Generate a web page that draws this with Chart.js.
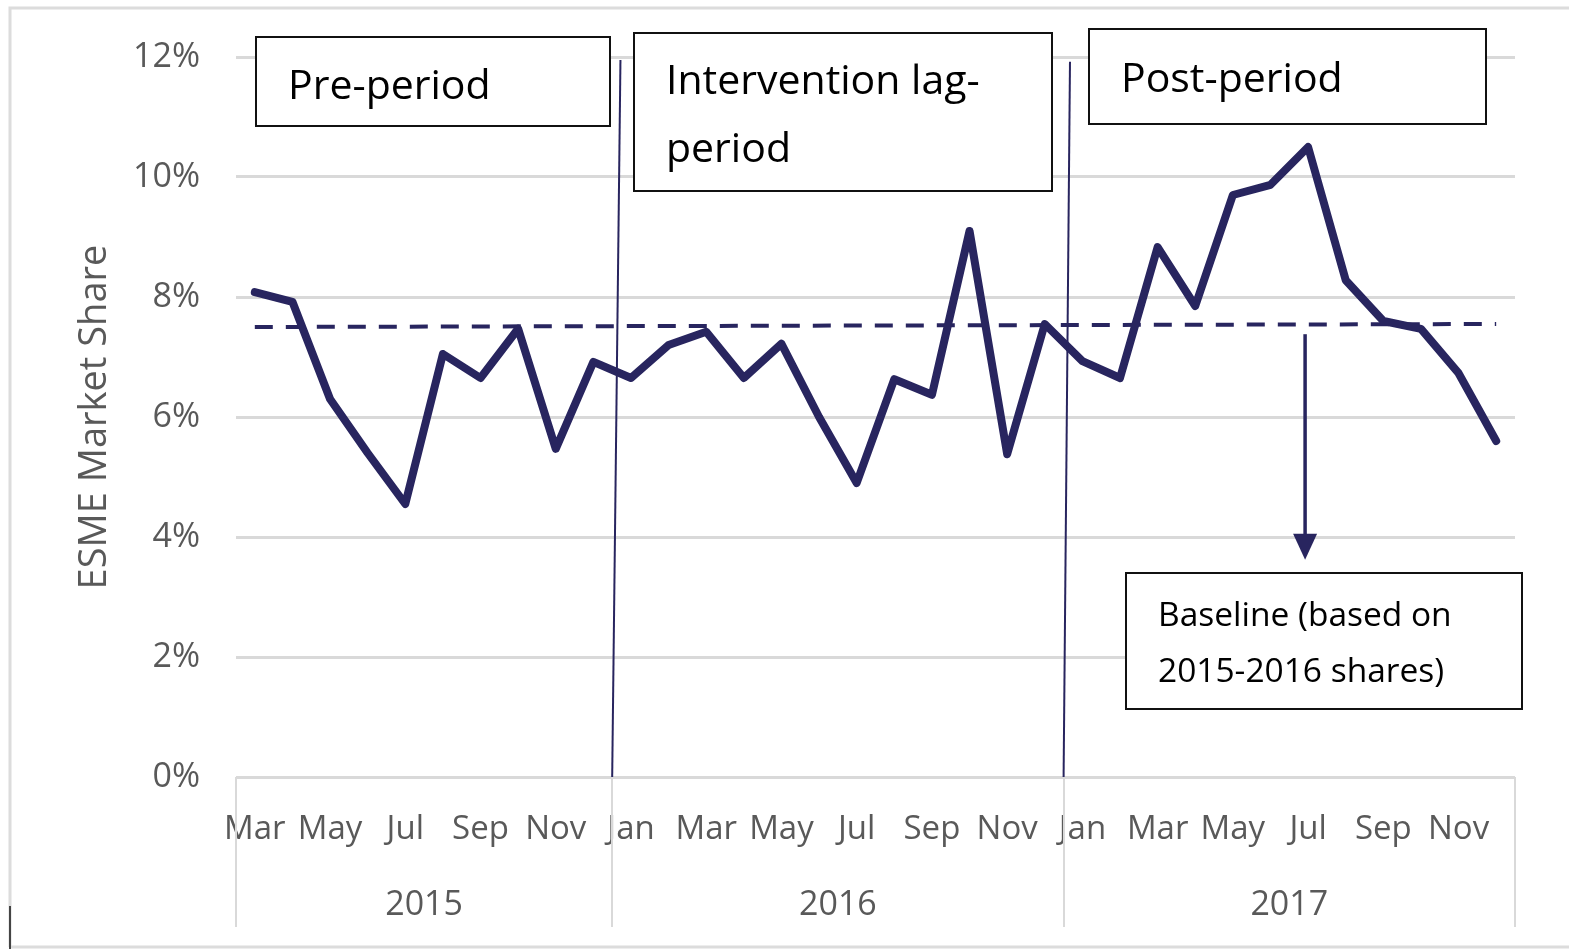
<!DOCTYPE html>
<html>
<head>
<meta charset="utf-8">
<script src="https://cdn.jsdelivr.net/npm/chart.js@4.4.1/dist/chart.umd.min.js"></script>
<style>
  body { margin: 0; background: #fff; }
  #wrap { width: 1569px; height: 949px; position: relative; }
</style>
</head>
<body>
<div id="wrap"><canvas id="myChart"></canvas></div>
<script>
// months from Mar 2015 to Dec 2017
const months = ['Mar','Apr','May','Jun','Jul','Aug','Sep','Oct','Nov','Dec',
  'Jan','Feb','Mar','Apr','May','Jun','Jul','Aug','Sep','Oct','Nov','Dec',
  'Jan','Feb','Mar','Apr','May','Jun','Jul','Aug','Sep','Oct','Nov','Dec'];
const years = ['2015', '2016', '2017'];
const monthsPerYear = [10, 12, 12];

// ESME market share, %
const share = [8.08, 7.92, 6.3, 5.4, 4.55, 7.05, 6.65, 7.47, 5.47, 6.92,
  6.65, 7.2, 7.42, 6.65, 7.22, 6.0, 4.9, 6.63, 6.37, 9.1, 5.38, 7.55,
  6.93, 6.65, 8.83, 7.85, 9.7, 9.87, 10.5, 8.28, 7.6, 7.47, 6.73, 5.6];

// baseline (based on 2015-2016 shares), start and end value
const baselineStart = 7.5;
const baselineEnd = 7.55;

const yTicks = [0, 2, 4, 6, 8, 10, 12];

const navy = '#28255f';
const grey = '#595959';
const font = "'Open Sans', 'DejaVu Sans', sans-serif";

// annotations, in category index / percent units
const periodLines = [
  { xTop: 9.72, yTop: 11.95, xBottom: 9.5, yBottom: 0 },
  { xTop: 21.67, yTop: 11.92, xBottom: 21.5, yBottom: 0 }
];
const textBoxes = [
  { x0: 0.03, x1: 9.44, y0: 12.33, y1: 10.85, lines: ['Pre-period'], size: 41, first: 50, gap: 0 },
  { x0: 10.08, x1: 21.19, y0: 12.4, y1: 9.77, lines: ['Intervention lag-', 'period'], size: 41, first: 49, gap: 68 },
  { x0: 22.17, x1: 32.73, y0: 12.47, y1: 10.88, lines: ['Post-period'], size: 41, first: 51, gap: 0 },
  { x0: 23.16, x1: 33.68, y0: 3.4, y1: 1.13, lines: ['Baseline (based on', '2015-2016 shares)'], size: 33.5, first: 43, gap: 56 }
];
const arrow = { x: 27.92, yFrom: 7.38, yTo: 3.62 };

const baselineData = months.map((m, i) => i === 0 ? baselineStart : (i === months.length - 1 ? baselineEnd : null));

const extras = {
  id: 'extras',
  beforeDraw(chart) {
    const c = chart.ctx;
    c.save();
    c.fillStyle = '#fff';
    c.fillRect(0, 0, chart.width, chart.height);
    c.strokeStyle = '#dcdcdc';
    c.lineWidth = 3;
    c.beginPath();
    c.moveTo(10, 947); c.lineTo(10, 8); c.lineTo(chart.width, 8);
    c.moveTo(10, 947); c.lineTo(chart.width, 947);
    c.stroke();
    c.strokeStyle = '#444';
    c.lineWidth = 2;
    c.beginPath();
    c.moveTo(10, 906); c.lineTo(10, 949);
    c.stroke();
    c.restore();
  },
  afterDraw(chart) {
    const c = chart.ctx;
    const xs = chart.scales.x, ys = chart.scales.y;
    const bottom = chart.chartArea.bottom;
    c.save();

    // year groups under month labels
    c.strokeStyle = '#d9d9d9';
    c.lineWidth = 2;
    let start = 0;
    const edges = [-0.5];
    monthsPerYear.forEach(n => { start += n; edges.push(start - 0.5); });
    edges.forEach(e => {
      const px = Math.round(xs.getPixelForValue(e));
      c.beginPath(); c.moveTo(px, bottom); c.lineTo(px, bottom + 150); c.stroke();
    });
    c.fillStyle = grey;
    c.font = '34px ' + font;
    c.textAlign = 'center';
    c.textBaseline = 'middle';
    years.forEach((y, i) => {
      const mid = (edges[i] + edges[i + 1]) / 2;
      c.fillText(y, xs.getPixelForValue(mid), bottom + 128);
    });

    // period divider lines
    c.strokeStyle = navy;
    c.lineWidth = 2;
    periodLines.forEach(l => {
      c.beginPath();
      c.moveTo(xs.getPixelForValue(l.xTop), ys.getPixelForValue(l.yTop));
      c.lineTo(xs.getPixelForValue(l.xBottom), ys.getPixelForValue(l.yBottom));
      c.stroke();
    });

    // arrow to baseline note
    const ax = xs.getPixelForValue(arrow.x);
    const ay0 = ys.getPixelForValue(arrow.yFrom);
    const ay1 = ys.getPixelForValue(arrow.yTo);
    c.lineWidth = 3.5;
    c.beginPath(); c.moveTo(ax, ay0); c.lineTo(ax, ay1 - 20); c.stroke();
    c.fillStyle = navy;
    c.beginPath();
    c.moveTo(ax - 12, ay1 - 26); c.lineTo(ax + 12, ay1 - 26); c.lineTo(ax, ay1);
    c.closePath(); c.fill();

    // text boxes
    textBoxes.forEach(b => {
      const x0 = Math.round(xs.getPixelForValue(b.x0)), x1 = Math.round(xs.getPixelForValue(b.x1));
      const y0 = Math.round(ys.getPixelForValue(b.y0)), y1 = Math.round(ys.getPixelForValue(b.y1));
      c.fillStyle = '#fff';
      c.fillRect(x0, y0, x1 - x0, y1 - y0);
      c.strokeStyle = '#111';
      c.lineWidth = 2;
      c.strokeRect(x0, y0, x1 - x0, y1 - y0);
      c.fillStyle = '#000';
      c.font = b.size + 'px ' + font;
      c.textAlign = 'left';
      c.textBaseline = 'middle';
      b.lines.forEach((t, i) => c.fillText(t, x0 + 32, y0 + b.first + i * b.gap));
    });
    c.restore();
  }
};

new Chart(document.getElementById('myChart'), {
  type: 'line',
  data: {
    labels: months,
    datasets: [
      {
        label: 'ESME Market Share',
        data: share,
        borderColor: navy,
        borderWidth: 8,
        pointRadius: 0,
        tension: 0,
        borderJoinStyle: 'round',
        borderCapStyle: 'round'
      },
      {
        label: 'Baseline',
        data: baselineData,
        spanGaps: true,
        borderColor: navy,
        borderWidth: 4,
        borderDash: [18, 13],
        pointRadius: 0
      }
    ]
  },
  options: {
    responsive: true,
    maintainAspectRatio: false,
    animation: false,
    layout: { padding: { top: 57, right: 54, bottom: 0, left: 0 } },
    plugins: { legend: { display: false }, tooltip: { enabled: false } },
    scales: {
      x: {
        type: 'category',
        offset: true,
        grid: { display: false, drawTicks: false },
        border: { display: false },
        ticks: {
          autoSkip: false,
          maxRotation: 0,
          minRotation: 0,
          padding: 33,
          color: grey,
          font: { family: font, size: 33 },
          callback: function (val, index) {
            return index % 2 === 0 ? this.getLabelForValue(val) : '';
          }
        },
        afterFit: (s) => { s.height = 172; }
      },
      y: {
        min: 0,
        max: 12,
        afterBuildTicks: (s) => { s.ticks = yTicks.map(v => ({ value: v })); },
        grid: { color: '#d9d9d9', lineWidth: 3, drawTicks: false },
        border: { display: false },
        ticks: {
          padding: 36,
          color: grey,
          font: { family: font, size: 34 },
          callback: (v) => v + '%'
        },
        title: {
          display: true,
          text: 'ESME Market Share',
          color: grey,
          font: { family: font, size: 38, lineHeight: 1.2 },
          padding: { top: 72, bottom: 0 }
        },
        afterFit: (s) => { s.width = 236; }
      }
    }
  },
  plugins: [extras]
});
</script>
</body>
</html>
